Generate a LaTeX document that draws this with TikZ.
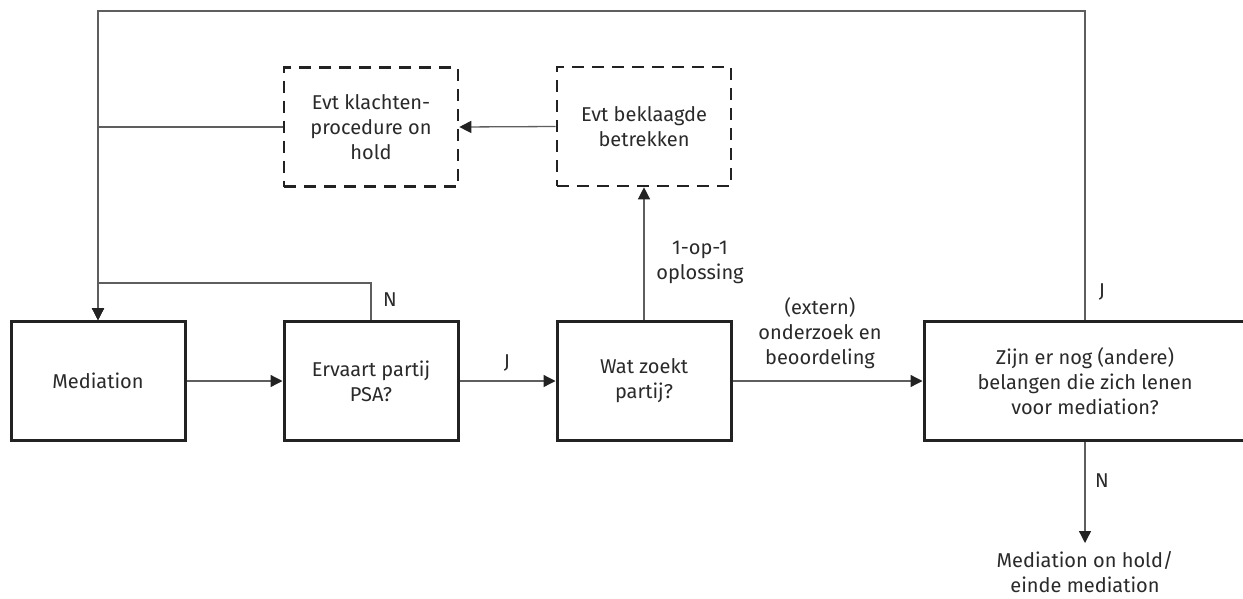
\documentclass[tikz,border=0pt]{standalone}
\usepackage{fontspec}
\setmainfont{Fira Sans}
\usetikzlibrary{arrows.meta}
\definecolor{boxc}{HTML}{222222}
\definecolor{linec}{HTML}{5E5E5E}
\definecolor{txtc}{HTML}{2A2A2A}
\tikzset{
  txt/.style={font=\fontsize{20}{25}\selectfont, text=txtc, align=center, inner sep=0pt},
  solidbox/.style={txt, draw=boxc, line width=3pt, minimum height=119pt},
  dashbox/.style={txt, draw=boxc, line width=2.6pt, dash pattern=on 12pt off 8pt, minimum width=174pt, minimum height=119pt},
  conn/.style={draw=linec, line width=1.3pt},
  arr/.style={conn, -{Triangle[length=12pt,width=12pt,fill=boxc,color=boxc]}},
}
\begin{document}
\begin{tikzpicture}[x=1pt,y=-1pt]
\useasboundingbox[fill=white] (0,0) rectangle (1243,598);
\clip (0,0) rectangle (1243,598);
% boxes
\node[solidbox, minimum width=174pt] (med) at (98,381) {Mediation};
\node[solidbox, minimum width=174pt] (erv) at (371,381) {Ervaart partij\\PSA?};
\node[solidbox, minimum width=174pt] (wat) at (644,381) {Wat zoekt\\partij?};
\node[solidbox, minimum width=322pt] (zijn) at (1085,381) {Zijn er nog (andere)\\belangen die zich lenen\\voor mediation?};
\node[dashbox] (kl) at (371,127) {Evt klachten-\\procedure on\\hold};
\node[dashbox] (bek) at (644,126.5) {Evt beklaagde\\betrekken};
% coordinates
\coordinate (topR) at (1085,11);
\coordinate (topL) at (98,11);
\coordinate (klL) at (98,127);
\coordinate (nL) at (98,283);
\coordinate (nR) at (371,283);
\coordinate (endtip) at (1085,543);
\node[txt] (endtxt) at (1085,572) {Mediation on hold/\\einde mediation};
% connectors
\draw[arr] (zijn.north) -- (topR) -- (topL) -- (med.north);
\draw[arr] (kl.west) -- (klL) -- (med.north);
\draw[arr] (erv.north) -- (nR) -- (nL) -- (med.north);
\draw[arr] (med.east) -- (erv.west);
\draw[arr] (erv.east) -- (wat.west);
\draw[arr] (wat.north) -- (bek.south);
\draw[arr] (bek.west) -- (kl.east);
\draw[arr] (wat.east) -- (zijn.west);
\draw[arr] (zijn.south) -- (endtip);
% labels
\node[txt] (lN1) at (390,300) {N};
\node[txt] (lJ1) at (507,363) {J};
\node[txt] (l11) at (700,262) {1-op-1\\oplossing};
\node[txt] (lext) at (820,333) {(extern)\\onderzoek en\\beoordeling};
\node[txt] (lJ2) at (1102,292) {J};
\node[txt] (lN2) at (1102,481) {N};
\end{tikzpicture}
\end{document}
